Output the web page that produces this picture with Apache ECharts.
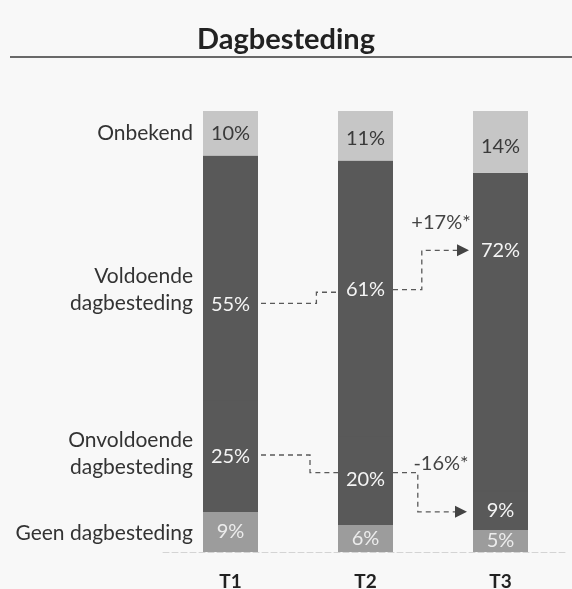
<!DOCTYPE html>
<html><head><meta charset="utf-8">
<script src="https://cdn.jsdelivr.net/npm/echarts@6/dist/echarts.min.js"></script>
<style>html,body{margin:0;padding:0;background:#f8f8f8}#c{width:572px;height:589px}</style>
</head><body><div id="c"></div>
<script>
// ---- data ----
const categories = ['T1', 'T2', 'T3'];
const geen = [9, 6, 5];
const onvoldoende = [25, 20, 9];
const voldoende = [55, 61, 72];
const onbekend = [10, 11, 14];
const seriesNames = ['Geen dagbesteding', 'Onvoldoende dagbesteding', 'Voldoende dagbesteding', 'Onbekend'];
const sideLabels = ['Geen dagbesteding', 'Onvoldoende\ndagbesteding', 'Voldoende\ndagbesteding', 'Onbekend'];
const changeLabels = ['+17%*', '-16%*'];
const titleText = 'Dagbesteding';

// ---- build ----
const totals = categories.map((_, i) => geen[i] + onvoldoende[i] + voldoende[i] + onbekend[i]);
const share = arr => arr.map((v, i) => v / totals[i] * 100);

const FONT = 'Lato, "Open Sans", sans-serif';
const BW = 55;
const dark = '#595959';

function barSeries(name, raw, color, textColor, offsets, seam) {
  const vals = share(raw);
  const st = { color: color };
  if (seam) Object.assign(st, { shadowColor: color, shadowBlur: 0, shadowOffsetX: 0, shadowOffsetY: 1.5 });
  return {
    name: name, type: 'bar', stack: 'all', barWidth: BW,
    itemStyle: st,
    emphasis: { disabled: true },
    label: {
      show: true, position: 'inside', color: textColor,
      fontFamily: FONT, fontSize: 20,
      formatter: p => raw[p.dataIndex] + '%'
    },
    data: vals.map((v, i) => offsets ? { value: v, label: { offset: offsets[i] } } : v)
  };
}

const chart = echarts.init(document.getElementById('c'), null, { renderer: 'canvas' });

function renderAnno(params, api) {
  const x = i => api.coord([i, 0])[0];
  const y = v => api.coord([0, v])[1];
  const dash = { stroke: '#5a5a5a', lineWidth: 1.3, lineDash: [5, 4], fill: null };
  const els = [];
  const line = pts => els.push({ type: 'polyline', shape: { points: pts }, style: dash, silent: true });
  const arrow = (tipX, yy) => els.push({ type: 'polygon', shape: { points: [[tipX, yy], [tipX - 12, yy - 6], [tipX - 12, yy + 6]] }, style: { fill: '#444' }, silent: true });
  const r0 = x(0) + BW / 2, l1 = x(1) - BW / 2, r1 = x(1) + BW / 2, l2 = x(2) - BW / 2;
  // upper connector (Voldoende)
  const e1 = r0 + (l1 - r0) * 0.73;
  line([[r0 + 3, y(56.4)], [e1, y(56.4)], [e1, y(58.9)], [l1, y(58.9)]]);
  const e2 = r1 + (l2 - r1) * 0.36;
  line([[r1, y(59.5)], [e2, y(59.5)], [e2, y(68.4)], [l2 - 14, y(68.4)]]);
  arrow(l2 - 4, y(68.4));
  // lower connector (Onvoldoende)
  const e3 = r0 + (l1 - r0) * 0.65;
  line([[r0 + 3, y(22.0)], [e3, y(22.0)], [e3, y(18.0)], [l1, y(18.0)]]);
  const e4 = r1 + (l2 - r1) * 0.31;
  line([[r1, y(18.0)], [e4, y(18.0)], [e4, y(9.1)], [l2 - 16, y(9.1)]]);
  arrow(l2 - 6, y(9.1));
  // change texts
  const tstyle = { fontFamily: FONT, fontSize: 20, fill: '#444', align: 'center', verticalAlign: 'middle' };
  els.push({ type: 'text', style: Object.assign({ text: changeLabels[0], x: l2 - 32, y: y(74.6) }, tstyle) });
  els.push({ type: 'text', style: Object.assign({ text: changeLabels[1], x: l2 - 32, y: y(20.0) }, tstyle) });
  // side labels next to T1
  const sx = x(0) - BW / 2 - 10;
  const sstyle = { fontFamily: FONT, fontSize: 21, fill: '#333', align: 'right', verticalAlign: 'middle', lineHeight: 27 };
  const sy = [4.3, 22.3, 59.5, 95.0];
  sideLabels.forEach((t, k) => els.push({ type: 'text', style: Object.assign({ text: t, x: sx, y: y(sy[k]) }, sstyle) }));
  return { type: 'group', children: els };
}

chart.setOption({
  backgroundColor: '#f8f8f8',
  animation: false,
  title: {
    text: titleText, left: 'center', top: 20,
    textStyle: { fontFamily: FONT, fontWeight: 'bold', fontSize: 29, color: '#222' }
  },
  graphic: [{
    type: 'line', shape: { x1: 10, y1: 57, x2: 572, y2: 57 },
    style: { stroke: '#3a3a3a', lineWidth: 1.5 }
  }],
  grid: { left: 163, right: 4, top: 111, bottom: 37, outerBoundsMode: 'none', containLabel: false },
  xAxis: {
    type: 'category', data: categories,
    axisTick: { show: false },
    axisLine: { show: true, lineStyle: { color: '#d4d4d4', width: 1, type: [6, 3] } },
    axisLabel: { color: '#222', fontFamily: FONT, fontWeight: 'bold', fontSize: 19, margin: 20 }
  },
  yAxis: { type: 'value', min: 0, max: 100, show: false, splitLine: { show: false } },
  series: [
    barSeries(seriesNames[0], geen, '#9c9c9c', '#ececec'),
    barSeries(seriesNames[1], onvoldoende, dark, '#f4f4f4'),
    barSeries(seriesNames[2], voldoende, dark, '#f4f4f4', [[0, 27], [0, -8], [0, -81]], true),
    barSeries(seriesNames[3], onbekend, '#c6c6c6', '#3a3a3a', [[0, 0], [0, 3], [0, 5]]),
    {
      type: 'custom', renderItem: renderAnno, clip: false, silent: true,
      coordinateSystem: 'cartesian2d', data: [[0, 0]], z: 10
    }
  ]
});
</script>
</body></html>
